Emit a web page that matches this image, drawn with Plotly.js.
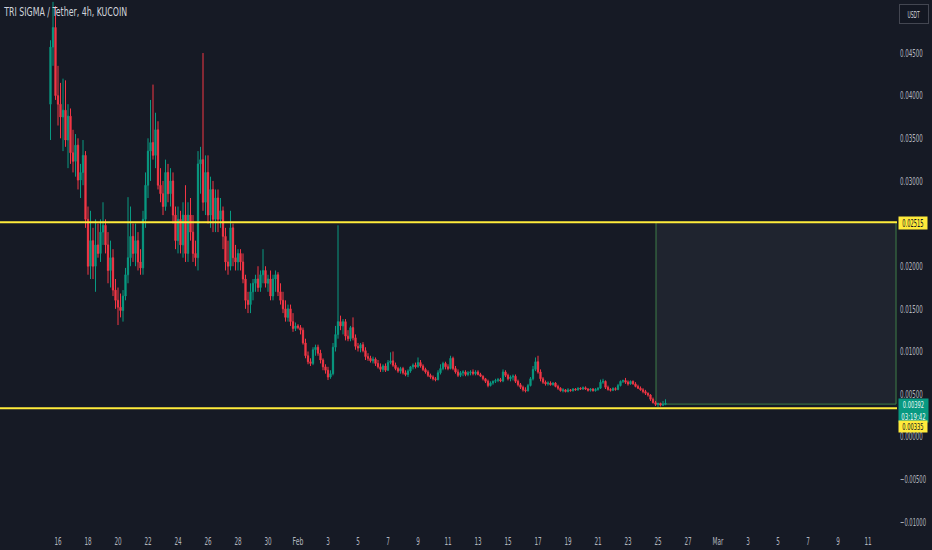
<!DOCTYPE html>
<html>
<head>
<meta charset="utf-8">
<script src="https://cdn.plot.ly/plotly-3.0.1.min.js"></script>
<style>
  html, body { margin: 0; padding: 0; background: #161a25; }
  #chart { width: 932px; height: 550px; }
</style>
</head>
<body>
<div id="chart"></div>
<script>
// ---- Data (prices in units of 0.00001 USDT), 4h candles starting 2025-01-15 12:00 ----
const firstCandle = '2025-01-15T12:00:00Z';
const candleHours = 4;

const openP = [
3900,4570,4800,4000,3900,3750,3830,3480,3760,3330,3230,3420,3010,3100,3300,2550,2000,2300,2000,2250,
2150,2400,2480,2250,1950,2100,1720,1600,1520,1480,1650,1900,2100,2350,2150,2300,2050,1980,2550,2950,
3350,3450,3300,3600,2950,2850,2700,3100,2850,3000,2600,2300,2550,2250,2600,2150,2600,2400,2150,2100,
3200,3250,2750,3100,2600,2900,2550,2800,2550,2650,2350,2050,2000,2450,2100,2050,2150,2050,1850,1600,
1550,1700,1800,1850,1750,1900,1950,1800,1850,1650,1850,1900,1700,1600,1500,1400,1500,1350,1270,1300,
1280,1250,1100,950,880,860,1020,1050,980,900,820,780,700,740,1050,1200,1350,1300,1350,1180,
1150,1280,1160,1060,1040,1080,1010,940,920,890,910,860,820,790,830,780,870,890,840,800,
770,800,750,730,770,820,840,820,870,830,790,760,720,700,680,670,750,800,860,820,
800,920,800,760,720,750,760,730,750,760,740,760,730,710,680,650,600,630,650,660,
670,655,760,720,680,700,710,650,610,580,550,540,600,680,790,880,760,680,640,620,
630,610,630,590,570,540,550,530,550,540,560,550,570,560,575,560,545,560,540,555,
570,640,650,580,555,545,565,555,600,650,660,640,620,650,620,590,570,550,530,510,
490,440,400,380,390,370,380
];
const highP = [
4650,5100,5050,4350,4150,4200,4180,3900,3850,3600,3550,3500,3200,3480,3350,2700,2650,2450,2550,2500,
2550,2750,2550,2400,2300,2200,1850,1750,1680,1720,1980,2810,2700,2500,2500,2400,2200,2650,3100,3500,
3950,4130,3800,3700,3150,3000,3250,3200,3150,3100,2700,2700,2650,2750,2950,2750,2800,2600,2300,3350,
3400,4500,3300,3300,3050,3000,2900,2900,2800,2700,2450,2300,2650,2500,2250,2200,2200,2150,1900,1700,
1800,1850,1900,2000,1950,2200,2000,1900,1950,1900,1950,1930,1800,1700,1600,1550,1550,1450,1340,1320,
1310,1280,1150,1000,920,1050,1080,1080,1020,920,850,820,780,1100,1300,2480,1420,1380,1380,1250,
1300,1400,1200,1100,1100,1110,1050,980,950,940,930,900,860,850,860,900,990,1000,870,820,
820,820,780,790,830,860,870,930,900,850,810,780,740,720,700,780,850,880,880,850,
950,940,830,790,770,780,780,770,780,790,780,780,750,720,690,670,650,660,680,690,
690,790,780,740,720,730,730,670,630,600,580,620,700,830,930,950,790,700,660,650,
650,640,640,610,580,570,560,570,560,570,570,580,580,590,590,570,570,570,570,580,
670,680,660,600,570,580,580,620,660,670,690,660,660,660,640,610,590,570,550,520,
500,460,420,400,400,420,440
];
const lowP = [
3480,4350,3950,3650,3500,3350,3400,3150,3200,3100,3050,2900,2800,2950,2450,1900,1850,1850,1700,2100,
2050,2250,2150,1800,1750,1650,1500,1310,1400,1350,1600,1800,2000,2050,2000,1950,1900,1900,2450,2800,
3000,3250,3150,2900,2750,2600,2650,2750,2700,2500,2200,2150,2150,2100,2050,2050,2300,2050,2000,1950,
2850,2650,2600,2500,2450,2400,2400,2400,2450,2200,1950,1900,1950,2000,1950,1950,1950,1800,1500,1450,
1450,1600,1700,1700,1700,1800,1750,1700,1600,1600,1700,1650,1550,1450,1350,1350,1300,1230,1240,1260,
1200,1080,920,850,830,840,950,950,860,780,740,665,680,720,1000,1150,1250,1200,1130,1120,
1120,1130,1020,1000,990,990,900,890,870,860,830,800,760,760,760,770,850,820,780,750,
740,730,710,700,750,790,800,810,810,770,740,700,680,660,650,660,730,780,790,780,
790,780,740,700,700,710,710,710,720,720,720,720,700,660,630,580,590,610,630,640,
640,640,700,660,650,660,630,590,560,530,520,530,590,660,770,740,650,620,600,600,
600,600,580,550,530,520,520,520,530,530,540,540,550,550,550,530,530,530,530,540,
560,620,560,540,530,535,540,545,590,630,620,600,610,610,580,560,540,510,490,470,
420,390,360,350,355,360,370
];
const closeP = [
4570,4800,4000,3900,3750,3830,3480,3760,3330,3230,3420,3010,3100,3300,2550,2000,2300,2000,2250,2150,
2400,2480,2250,1950,2100,1720,1600,1520,1480,1650,1900,2100,2350,2150,2300,2050,1980,2550,2950,3350,
3450,3300,3600,2950,2850,2700,3100,2850,3000,2600,2300,2550,2250,2600,2150,2600,2400,2150,2100,3200,
3250,2750,3100,2600,2900,2550,2800,2550,2650,2350,2050,2000,2450,2100,2050,2150,2050,1850,1600,1550,
1700,1800,1850,1750,1900,1950,1800,1850,1650,1850,1900,1700,1600,1500,1400,1500,1350,1270,1300,1280,
1250,1100,950,880,860,1020,1050,980,900,820,780,700,740,1050,1200,1350,1300,1350,1180,1150,
1280,1160,1060,1040,1080,1010,940,920,890,910,860,820,790,830,780,870,890,840,800,770,
800,750,730,770,820,840,820,870,830,790,760,720,700,680,670,750,800,860,820,800,
920,800,760,720,750,760,730,750,760,740,760,730,710,680,650,600,630,650,660,670,
655,760,720,680,700,710,650,610,580,550,540,600,680,790,880,760,680,640,620,630,
610,630,590,570,540,550,530,550,540,560,550,570,560,575,560,545,560,540,555,570,
640,650,580,555,545,565,555,600,650,660,640,620,650,620,590,570,550,530,510,490,
440,400,380,390,370,380,392
];

// Horizontal levels and drawn box (USDT)
const levelHigh = 0.02515;
const levelLow = 0.00335;
const lastPrice = 0.00392;
const countdown = '03:19:42';
const boxStart = '2025-02-24 20:50';
const boxEnd = '2025-03-12 20:50';
const boxBottom = 0.00383;
const boxTop = 0.02515;

// Axis ticks
const timeTickVals = ['2025-01-16','2025-01-18','2025-01-20','2025-01-22','2025-01-24','2025-01-26','2025-01-28','2025-01-30',
  '2025-02-01','2025-02-03','2025-02-05','2025-02-07','2025-02-09','2025-02-11','2025-02-13','2025-02-15','2025-02-17',
  '2025-02-19','2025-02-21','2025-02-23','2025-02-25','2025-02-27','2025-03-01','2025-03-03','2025-03-05','2025-03-07',
  '2025-03-09','2025-03-11'];
const timeTickText = ['16','18','20','22','24','26','28','30','Feb','3','5','7','9','11','13','15','17','19','21','23','25','27',
  'Mar','3','5','7','9','11'];
const priceTickVals = [0.045,0.04,0.035,0.03,0.02,0.015,0.01,0.005,0,-0.005,-0.01];
const priceTickText = ['0.04500','0.04000','0.03500','0.03000','0.02000','0.01500','0.01000','0.00500','0.00000','−0.00500','−0.01000'];

// ---- Build ----
const UNIT = 1e-5;
const t0 = Date.parse(firstCandle);
const times = closeP.map((_, i) => new Date(t0 + i * candleHours * 3600e3).toISOString().slice(0, 16).replace('T', ' '));
const toPrice = a => a.map(v => v * UNIT);

const UP = '#089981', DOWN = '#f23645', BG = '#161a25', TXT = '#b2b5be';
const FONT = '"DejaVu Sans Condensed", "DejaVu Sans", sans-serif';

const trace = {
  type: 'candlestick',
  x: times,
  open: toPrice(openP), high: toPrice(highP), low: toPrice(lowP), close: toPrice(closeP),
  increasing: { line: { color: UP, width: 1 }, fillcolor: UP },
  decreasing: { line: { color: DOWN, width: 1 }, fillcolor: DOWN },
  whiskerwidth: 0,
  hoverinfo: 'skip',
  showlegend: false
};

const labelFont = { family: FONT, size: 10, color: '#131722' };

const layout = {
  width: 932, height: 550,
  paper_bgcolor: BG, plot_bgcolor: BG,
  margin: { l: 0, r: 35, t: 0, b: 22 },
  showlegend: false,
  font: { family: FONT, size: 10, color: TXT },
  title: { text: 'TRI SIGMA / Tether, 4h, KUCOIN', x: 0.0045, xanchor: 'left', y: 0.979, yanchor: 'middle',
           font: { family: FONT, size: 11.5, color: '#d1d4dc' } },
  xaxis: {
    type: 'date',
    range: ['2025-01-12 03:12', '2025-03-12 22:24'],
    rangeslider: { visible: false },
    showgrid: false, zeroline: false, showline: false, ticks: '',
    tickvals: timeTickVals, ticktext: timeTickText,
    tickfont: { family: FONT, size: 10.5, color: TXT },
    ticklabelstandoff: 5
  },
  yaxis: {
    side: 'right',
    range: [-0.0107, 0.05122],
    showgrid: false, zeroline: false, showline: false, ticks: '',
    tickvals: priceTickVals, ticktext: priceTickText,
    tickfont: { family: FONT, size: 10.5, color: TXT },
    ticklabelstandoff: 2
  },
  shapes: [
    { type: 'rect', xref: 'x', yref: 'y', x0: boxStart, x1: boxEnd, y0: boxBottom, y1: boxTop,
      fillcolor: 'rgba(120,123,134,0.10)', line: { color: '#3f7f48', width: 1 }, layer: 'below' },
    { type: 'line', xref: 'paper', yref: 'y', x0: 0, x1: 1, y0: levelHigh, y1: levelHigh,
      line: { color: '#ffeb3b', width: 2 } },
    { type: 'line', xref: 'paper', yref: 'y', x0: 0, x1: 1, y0: levelLow, y1: levelLow,
      line: { color: '#ffeb3b', width: 2 } }
  ],
  annotations: [
    { xref: 'paper', yref: 'y', x: 1, y: levelHigh, xanchor: 'left', yanchor: 'middle', xshift: 1, yshift: -1,
      width: 28, height: 12, borderpad: 0,
      text: levelHigh.toFixed(5), showarrow: false, bgcolor: '#ffeb3b', font: labelFont },
    { xref: 'paper', yref: 'y', x: 1, y: lastPrice, xanchor: 'left', yanchor: 'top', xshift: 1, yshift: 5,
      width: 29, height: 23, borderpad: 0,
      text: lastPrice.toFixed(5) + '<br>' + countdown, showarrow: false, bgcolor: UP,
      font: { family: FONT, size: 9.5, color: '#e8f5f2' } },
    { xref: 'paper', yref: 'y', x: 1, y: levelLow, xanchor: 'left', yanchor: 'middle', xshift: 1, yshift: -18,
      width: 28, height: 11, borderpad: 0,
      text: levelLow.toFixed(5), showarrow: false, bgcolor: '#ffeb3b', font: { family: FONT, size: 9.5, color: '#131722' } },
    { xref: 'paper', yref: 'paper', x: 1, y: 1, xanchor: 'left', yanchor: 'top', xshift: 2, yshift: -4,
      width: 24, height: 14, borderpad: 2,
      text: 'USDT', showarrow: false, bgcolor: '#131722', bordercolor: '#434651', borderwidth: 1,
      font: { family: FONT, size: 9.5, color: '#d1d4dc' } }
  ]
};

// Condense text horizontally to match the narrow lettering of the reference
function squeeze(el, perChar) {
  const n = el.textContent.length;
  if (!n) return;
  el.setAttribute('textLength', (n * perChar).toFixed(1));
  el.setAttribute('lengthAdjust', 'spacingAndGlyphs');
}
function squeezeAll(sel, perChar) {
  document.querySelectorAll(sel).forEach(t => {
    const lines = t.querySelectorAll('tspan.line');
    if (lines.length) lines.forEach(l => squeeze(l, perChar));
    else squeeze(t, perChar);
  });
}

Plotly.newPlot('chart', [trace], layout, { staticPlot: true, displayModeBar: false }).then(() => {
  squeezeAll('.ytick text', 3.25);
  squeezeAll('.xtick text', 3.6);
  squeezeAll('.gtitle', 4.1);
  squeezeAll('.annotation-text', 3.05);
});
</script>
</body>
</html>
